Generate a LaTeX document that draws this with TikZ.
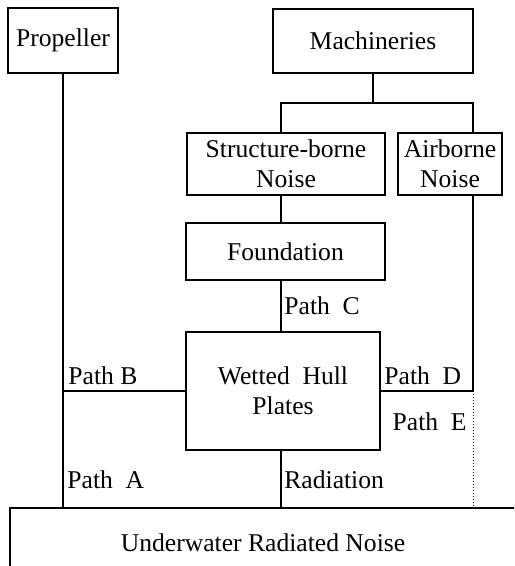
\documentclass[tikz,border=0pt]{standalone}
\usepackage{fontspec}
\setmainfont{Liberation Serif}

\begin{document}
\begin{tikzpicture}[
  x=0.5pt, y=-0.5pt,
  font=\fontsize{12.8}{15}\selectfont,
  box/.style={draw,line width=0.9pt,align=center,inner sep=0pt},
  link/.style={line width=1pt},
  weak/.style={line width=0.5pt,densely dotted},
  tag/.style={inner sep=0pt}
]
\useasboundingbox (0,0) rectangle (514,566);
\clip (0,0) rectangle (514,566);

\node[box,minimum width=55pt,minimum height=32.5pt] (prop) at (63,40.5) {Propeller};
\node[box,minimum width=100pt,minimum height=32pt] (mach) at (373,41) {Machineries};
\node[box,minimum width=99pt,minimum height=31pt] (struct) at (286,164) {Structure-borne\\Noise};
\node[box,minimum width=52pt,minimum height=31pt] (air) at (450,164) {Airborne\\Noise};
\node[box,minimum width=99.5pt,minimum height=28.5pt] (found) at (285.5,251.5) {Foundation};
\node[box,minimum width=97pt,minimum height=59pt] (hull) at (283,391) {Wetted\ \ Hull\\Plates};
\node[box,minimum width=253pt,minimum height=35pt] (under) at (263,543) {Underwater Radiated Noise};

\coordinate (sl) at (281,103);
\coordinate (sr) at (473,103);

\draw[link] (prop.south) -- (prop.south |- under.north);
\draw[link] (mach.south) -- (mach.south |- sl);
\draw[link] (sl |- struct.north) -- (sl) -- (sr) -- (sr |- air.north);
\draw[link] (sl |- struct.south) -- (sl |- found.north);
\draw[link] (sl |- found.south) -- (sl |- hull.north);
\draw[link] (hull.west) -- (hull.west -| prop.south);
\draw[link] (hull.east) -- (hull.east -| sr);
\draw[link] (sr |- air.south) -- (sr |- hull.east);
\draw[weak] (sr |- hull.east) -- (sr |- under.north);
\draw[link] (sl |- hull.south) -- (sl |- under.north);

\node[tag,anchor=base west] (pathb) at (68,384) {Path B};
\node[tag,anchor=base west] (patha) at (67,488) {Path\ \ A};
\node[tag,anchor=base west] (pathc) at (284,314) {Path\ \ C};
\node[tag,anchor=base west] (rad) at (284,488) {Radiation};
\node[tag,anchor=base west] (pathd) at (384,384) {Path\ \ D};
\node[tag,anchor=base east] (pathe) at (467,430) {Path\ \ E};
\end{tikzpicture}
\end{document}
